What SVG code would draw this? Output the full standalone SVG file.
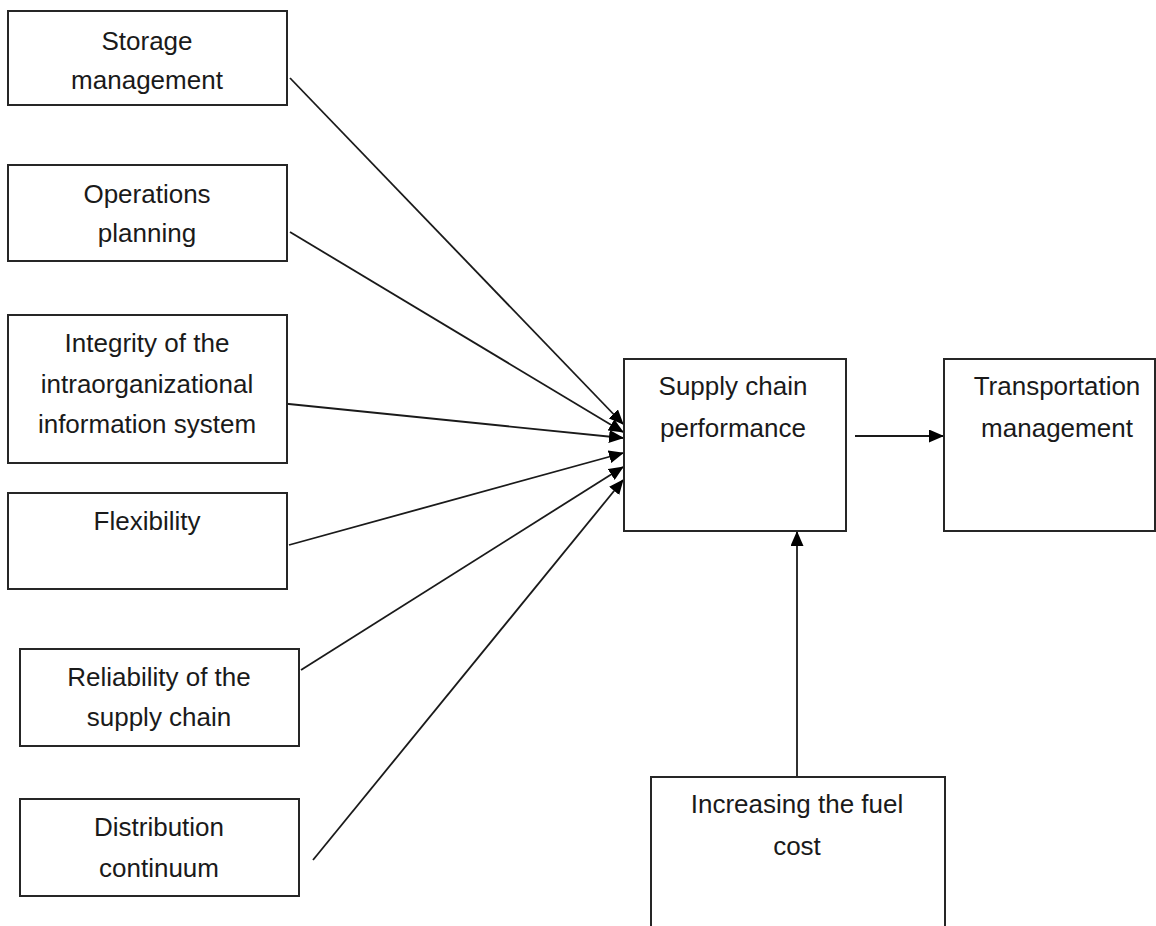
<svg xmlns="http://www.w3.org/2000/svg" width="1156" height="926" viewBox="0 0 1156 926">
<style>
.box{fill:#fff;stroke:#262626;stroke-width:2}
.t{font-family:"Liberation Sans",Arial,sans-serif;font-size:26px;fill:#1a1a1a;text-anchor:middle}
.c{stroke:#1a1a1a;stroke-width:1.8;fill:none;marker-end:url(#ah)}
</style>
<defs>
<marker id="ah" markerUnits="userSpaceOnUse" markerWidth="15" markerHeight="13" refX="14" refY="6.5" orient="auto">
<path d="M0,0 L15,6.5 L0,13 Z" fill="#000"/>
</marker>
</defs>
<rect width="1156" height="926" fill="#fff"/>
<g id="connectors">
<line class="c" x1="290" y1="78" x2="623" y2="424"/>
<line class="c" x1="290" y1="232" x2="623" y2="432"/>
<line class="c" x1="279" y1="403" x2="623" y2="438"/>
<line class="c" x1="289" y1="545" x2="623" y2="453"/>
<line class="c" x1="301" y1="670" x2="623" y2="467"/>
<line class="c" x1="313" y1="860" x2="623" y2="480"/>
<line class="c" x1="855" y1="436" x2="943" y2="436"/>
<line class="c" x1="797" y1="777" x2="797" y2="532"/>
</g>
<g id="storage">
<rect class="box" x="8" y="11" width="279" height="94"/>
<text class="t" x="147" y="50">Storage</text>
<text class="t" x="147" y="89">management</text>
</g>
<g id="operations">
<rect class="box" x="8" y="165" width="279" height="96"/>
<text class="t" x="147" y="203">Operations</text>
<text class="t" x="147" y="242">planning</text>
</g>
<g id="integrity">
<rect class="box" x="8" y="315" width="279" height="148"/>
<text class="t" x="147" y="352">Integrity of the</text>
<text class="t" x="147" y="393">intraorganizational</text>
<text class="t" x="147" y="433">information system</text>
</g>
<g id="flexibility">
<rect class="box" x="8" y="493" width="279" height="96"/>
<text class="t" x="147" y="530">Flexibility</text>
</g>
<g id="reliability">
<rect class="box" x="20" y="649" width="279" height="97"/>
<text class="t" x="159" y="686">Reliability of the</text>
<text class="t" x="159" y="726">supply chain</text>
</g>
<g id="distribution">
<rect class="box" x="20" y="799" width="279" height="97"/>
<text class="t" x="159" y="836">Distribution</text>
<text class="t" x="159" y="877">continuum</text>
</g>
<g id="performance">
<rect class="box" x="624" y="359" width="222" height="172"/>
<text class="t" x="733" y="395">Supply chain</text>
<text class="t" x="733" y="437">performance</text>
</g>
<g id="transportation">
<rect class="box" x="944" y="359" width="211" height="172"/>
<text class="t" x="1057" y="395">Transportation</text>
<text class="t" x="1057" y="437">management</text>
</g>
<g id="fuel">
<rect class="box" x="651" y="777" width="294" height="160"/>
<text class="t" x="797" y="813">Increasing the fuel</text>
<text class="t" x="797" y="855">cost</text>
</g>
</svg>
